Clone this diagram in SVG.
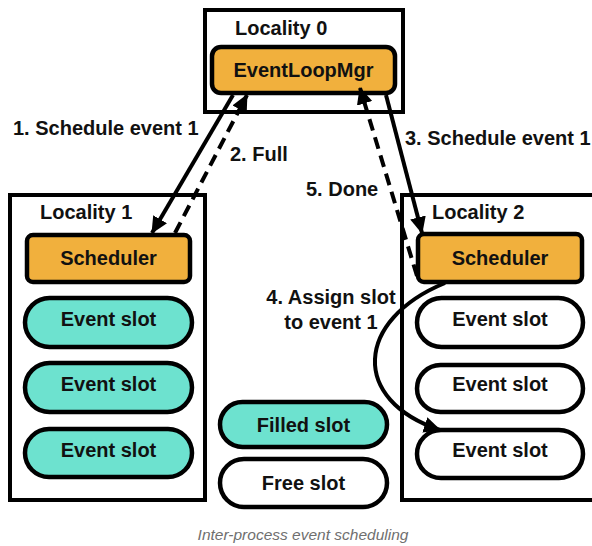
<svg xmlns="http://www.w3.org/2000/svg" width="592" height="546" viewBox="0 0 592 546">
  <style>
    .box { fill: #ffffff; stroke: #000; stroke-width: 4; }
    .sched { fill: #F1B03D; stroke: #000; stroke-width: 4.5; }
    .filled { fill: #6DE2CF; stroke: #000; stroke-width: 4.5; }
    .free { fill: #ffffff; stroke: #000; stroke-width: 4.5; }
    text { font-family: "Liberation Sans", Arial, Helvetica, sans-serif; font-size: 20px; font-weight: bold; fill: #111; }
    .c { text-anchor: middle; }
    .caption { font-size: 15.5px; font-weight: normal; font-style: italic; fill: #6f6f6f; }
    .edge { fill: none; stroke: #000; stroke-width: 4; }
    .dash { stroke-dasharray: 12 7; }
  </style>
  <defs>
    <marker id="arrow" markerUnits="userSpaceOnUse" markerWidth="18" markerHeight="16" refX="16" refY="8" orient="auto">
      <path d="M0,0 L17,8 L0,16 z" fill="#000"/>
    </marker>
  </defs>

  <!-- Locality containers -->
  <g id="locality0">
    <rect class="box" x="205" y="10" width="198" height="102"/>
    <text x="235" y="35">Locality 0</text>
  </g>
  <g id="locality1">
    <rect class="box" x="10" y="195" width="195" height="305"/>
    <text x="40" y="219">Locality 1</text>
  </g>
  <g id="locality2">
    <rect class="box" x="402" y="195" width="200" height="305"/>
    <text x="432" y="219">Locality 2</text>
  </g>

  <!-- Central manager -->
  <g id="eventloopmgr">
    <rect class="sched" x="212" y="47" width="183" height="46" rx="9"/>
    <text class="c" x="303.5" y="77">EventLoopMgr</text>
  </g>

  <!-- Locality 1 contents -->
  <g id="scheduler1">
    <rect class="sched" x="27" y="235" width="163" height="47" rx="6"/>
    <text class="c" x="108.5" y="265">Scheduler</text>
  </g>
  <g id="slot1a">
    <rect class="filled" x="25" y="298" width="167" height="49" rx="24.5"/>
    <text class="c" x="108.5" y="326">Event slot</text>
  </g>
  <g id="slot1b">
    <rect class="filled" x="25" y="363" width="167" height="49" rx="24.5"/>
    <text class="c" x="108.5" y="391">Event slot</text>
  </g>
  <g id="slot1c">
    <rect class="filled" x="25" y="429" width="167" height="48" rx="24"/>
    <text class="c" x="108.5" y="457">Event slot</text>
  </g>

  <!-- Locality 2 contents -->
  <g id="scheduler2">
    <rect class="sched" x="418" y="234" width="164" height="48" rx="6"/>
    <text class="c" x="500" y="265">Scheduler</text>
  </g>
  <g id="slot2a">
    <rect class="free" x="417" y="298" width="166" height="49" rx="24.5"/>
    <text class="c" x="500" y="326">Event slot</text>
  </g>
  <g id="slot2b">
    <rect class="free" x="417" y="365" width="166" height="47" rx="23.5"/>
    <text class="c" x="500" y="391">Event slot</text>
  </g>
  <g id="slot2c">
    <rect class="free" x="417" y="430" width="166" height="48" rx="24"/>
    <text class="c" x="500" y="457">Event slot</text>
  </g>

  <!-- Legend -->
  <g id="legend-filled">
    <rect class="filled" x="220" y="402" width="167" height="45" rx="22.5"/>
    <text class="c" x="303.5" y="432">Filled slot</text>
  </g>
  <g id="legend-free">
    <rect class="free" x="220" y="459" width="167" height="48" rx="24"/>
    <text class="c" x="303.5" y="490">Free slot</text>
  </g>

  <!-- Message flow -->
  <g id="connectors">
    <line class="edge" x1="233" y1="95" x2="152" y2="233" marker-end="url(#arrow)"/>
    <line class="edge dash" x1="175" y1="233" x2="247" y2="95" marker-end="url(#arrow)"/>
    <line class="edge" x1="386" y1="95" x2="422" y2="233" marker-end="url(#arrow)"/>
    <line class="edge dash" x1="417" y1="276" x2="360" y2="88" marker-end="url(#arrow)"/>
    <path class="edge" d="M445,283 C355,320 350,400 440,430" marker-end="url(#arrow)"/>
  </g>

  <!-- Flow labels -->
  <g id="labels">
    <text x="13" y="135">1. Schedule event 1</text>
    <text x="230" y="161">2. Full</text>
    <text x="405" y="145">3. Schedule event 1</text>
    <text class="c" x="331" y="304">4. Assign slot</text>
    <text class="c" x="331" y="329">to event 1</text>
    <text x="306" y="196">5. Done</text>
  </g>

  <text class="caption c" x="303" y="540">Inter-process event scheduling</text>
</svg>
